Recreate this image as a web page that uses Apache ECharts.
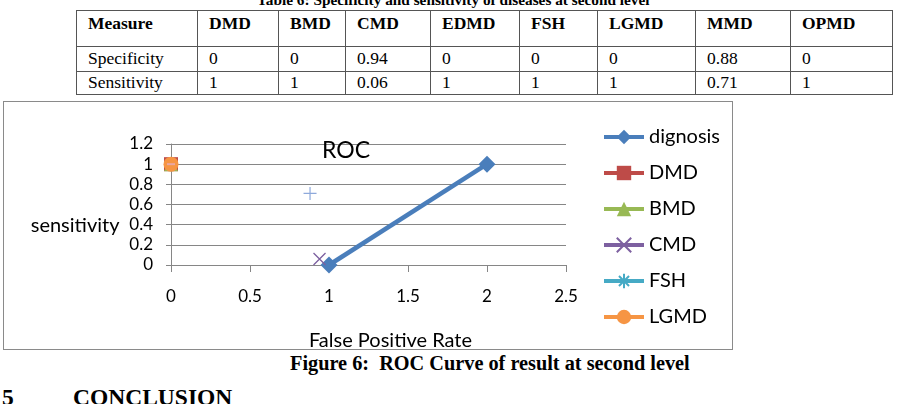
<!DOCTYPE html>
<html>
<head>
<meta charset="utf-8">
<script src="https://cdn.jsdelivr.net/npm/echarts@6/dist/echarts.min.js"></script>
<style>
  body { margin: 0; width: 909px; height: 404px; background: #fff; position: relative; overflow: hidden; font-family: "Liberation Serif", serif; }
  .tcap { position: absolute; left: 257px; top: -9px; font-weight: bold; font-size: 15.3px; white-space: nowrap; }
  table { position: absolute; left: 76px; top: 10px; border-collapse: collapse; font-size: 17.5px; }
  td { border: 1.3px solid #555; padding: 0 0 0 11px; vertical-align: middle; line-height: 1; }
  tr.h td { font-weight: bold; height: 31px; vertical-align: top; padding-top: 4px; }
  tr.r1 td { height: 24px; }
  tr.r2 td { height: 22px; }
  #chart { position: absolute; left: 3px; top: 101px; width: 728px; height: 247px; border: 1.5px solid #8a8a8a; }
  .fcap { position: absolute; left: 290px; top: 353px; font-weight: bold; font-size: 20.3px; line-height: 1; white-space: nowrap; }
  .sec { position: absolute; top: 386px; font-weight: bold; font-size: 23.5px; line-height: 1; }
</style>
</head>
<body>
<div class="tcap">Table 6: Specificity and sensitivity of diseases at second level</div>
<table id="tbl"></table>
<div id="chart"></div>
<div class="fcap">Figure 6:&nbsp; ROC Curve of result at second level</div>
<div class="sec" style="left:2px">5</div>
<div class="sec" style="left:73px">CONCLUSION</div>
<script>
// table values (also used for the chart points)
var measures = ['DMD', 'BMD', 'CMD', 'EDMD', 'FSH', 'LGMD', 'MMD', 'OPMD']
var specificity = [0, 0, 0.94, 0, 0, 0, 0.88, 0]
var sensitivity = [1, 1, 0.06, 1, 1, 1, 0.71, 1]
var colWidths = [121, 81, 67, 85, 89, 78, 98, 95, 102]

// the "dignosis" line
var diagX = [1, 2]
var diagY = [0, 1]

var xTicks = [0, 0.5, 1, 1.5, 2, 2.5]
var yTicks = [0, 0.2, 0.4, 0.6, 0.8, 1, 1.2]

// build the html table
var tbl = document.getElementById('tbl')
var rows = [['Measure'].concat(measures), ['Specificity'].concat(specificity), ['Sensitivity'].concat(sensitivity)]
var cls = ['h', 'r1', 'r2']
rows.forEach(function (r, ri) {
  var tr = document.createElement('tr')
  tr.className = cls[ri]
  r.forEach(function (v, ci) {
    var td = document.createElement('td')
    td.textContent = v
    td.style.width = (colWidths[ci] - 12) + 'px'
    tr.appendChild(td)
  })
  tbl.appendChild(tr)
})

function pt(name) {
  var i = measures.indexOf(name)
  return [[specificity[i], sensitivity[i]]]
}

var font = 'Lato'
var chart = echarts.init(document.getElementById('chart'))
chart.setOption({
  animation: false,
  textStyle: { fontFamily: font, color: '#000' },
  title: {
    text: 'ROC',
    left: 318,
    top: 37,
    padding: 0,
    textStyle: { fontFamily: font, fontSize: 23, fontWeight: 'normal', color: '#000' }
  },
  graphic: [
    { type: 'text', style: { text: 'sensitivity', x: 115.5, y: 123.5, align: 'right', verticalAlign: 'middle', font: '20px Lato', fill: '#000' } },
    { type: 'text', style: { text: 'False Positive Rate', x: 386.5, y: 238.5, align: 'center', verticalAlign: 'middle', font: '20px Lato', fill: '#000' } }
  ],
  legend: {
    data: ['dignosis', 'DMD', 'BMD', 'CMD', 'FSH', 'LGMD'],
    orient: 'vertical',
    left: 598,
    top: 25,
    padding: 0,
    itemWidth: 40,
    itemHeight: 18,
    itemGap: 16,
    lineStyle: { width: 4 },
    textStyle: { fontFamily: font, fontSize: 20, color: '#000' }
  },
  grid: { left: 167, top: 42, width: 395, height: 121 },
  xAxis: {
    type: 'value',
    min: 0,
    max: 2.5,
    interval: 0.5,
    axisLine: { lineStyle: { color: '#868686' } },
    axisTick: { show: true, length: 7, lineStyle: { color: '#868686' } },
    axisLabel: { margin: 23, fontSize: 17, color: '#000', formatter: function (v) { return xTicks.indexOf(v) >= 0 ? String(v) : '' } },
    splitLine: { show: false }
  },
  yAxis: {
    type: 'value',
    min: 0,
    max: 1.2,
    interval: 0.2,
    axisLine: { show: true, lineStyle: { color: '#868686' } },
    axisTick: { show: true, length: 5, lineStyle: { color: '#868686' } },
    axisLabel: { margin: 18, fontSize: 17, color: '#000', formatter: function (v) { return yTicks.indexOf(+v.toFixed(1)) >= 0 ? String(+v.toFixed(1)) : '' } },
    splitLine: { lineStyle: { color: '#868686' } }
  },
  series: [
    {
      name: 'dignosis', type: 'line',
      data: diagX.map(function (x, i) { return [x, diagY[i]] }),
      symbol: 'diamond', symbolSize: 17,
      lineStyle: { width: 4.5, color: '#4A7EBB' },
      itemStyle: { color: '#4A7EBB' }
    },
    {
      name: 'EDMD', type: 'line', data: pt('EDMD'),
      symbol: 'rect', symbolSize: 12,
      itemStyle: { color: '#4BACC6' }, lineStyle: { width: 4, color: '#4BACC6' }
    },
    {
      name: 'DMD', type: 'line', data: pt('DMD'),
      symbol: 'rect', symbolSize: 14,
      itemStyle: { color: '#BE4B48' }, lineStyle: { width: 4, color: '#BE4B48' }
    },
    {
      name: 'BMD', type: 'line', data: pt('BMD'),
      symbol: 'triangle', symbolSize: 14,
      itemStyle: { color: '#98B954' }, lineStyle: { width: 4, color: '#98B954' }
    },
    {
      name: 'CMD', type: 'line', data: pt('CMD'),
      symbol: 'path://M0,0 L10,10 M10,0 L0,10', symbolSize: 12,
      itemStyle: { color: '#7D60A0', borderColor: '#7D60A0', borderWidth: 1.3 },
      lineStyle: { width: 4, color: '#7D60A0' }
    },
    {
      name: 'FSH', type: 'line', data: pt('FSH'),
      symbol: 'path://M5,0 L5,10 M0,5 L10,5 M1.5,1.5 L8.5,8.5 M8.5,1.5 L1.5,8.5', symbolSize: 13,
      itemStyle: { color: '#46AAC5', borderColor: '#46AAC5', borderWidth: 1.3 },
      lineStyle: { width: 4, color: '#46AAC5' }
    },
    {
      name: 'LGMD', type: 'line', data: pt('LGMD'),
      symbol: 'circle', symbolSize: 15,
      itemStyle: { color: '#F69544' }, lineStyle: { width: 4, color: '#F69544' }
    },
    {
      name: 'MMD', type: 'line', data: pt('MMD'),
      symbol: 'path://M5,0 L5,10 M0,5 L10,5', symbolSize: 13,
      itemStyle: { color: '#8EA9DB', borderColor: '#8EA9DB', borderWidth: 1.2 }
    },
    {
      name: 'OPMD', type: 'line', data: pt('OPMD'),
      symbol: 'rect', symbolSize: [8, 2],
      itemStyle: { color: '#E8A7A5' }
    }
  ]
})
</script>
</body>
</html>
